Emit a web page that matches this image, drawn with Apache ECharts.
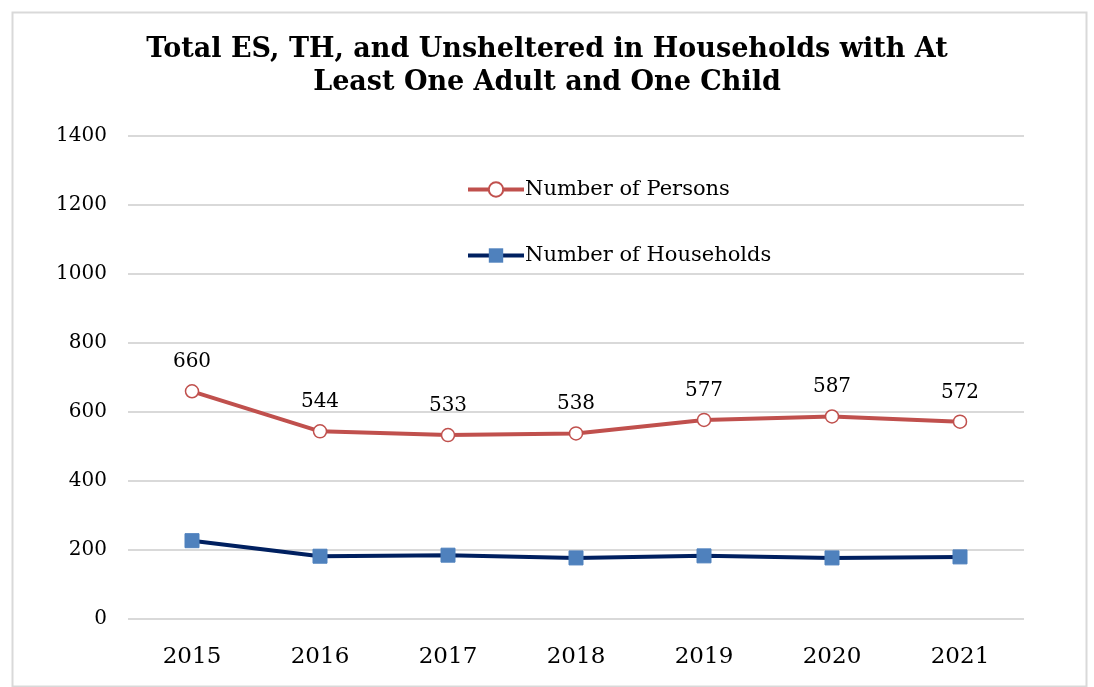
<!DOCTYPE html>
<html>
<head>
<meta charset="utf-8">
<script src="https://cdn.jsdelivr.net/npm/echarts@6/dist/echarts.min.js"></script>
<style>
html,body{margin:0;padding:0;background:#fff;}
#c{width:1094px;height:687px;}
</style>
</head>
<body>
<div id="c"></div>
<script>
const years = ['2015','2016','2017','2018','2019','2020','2021'];
const persons = [660, 544, 533, 538, 577, 587, 572];
const households = [227, 182, 185, 177, 183, 177, 180];
const yTicks = {min: 0, max: 1400, interval: 200};

const serif = '"DejaVu Serif", "Liberation Serif", serif';
const chart = echarts.init(document.getElementById('c'), null, {renderer: 'canvas'});
chart.setOption({
  backgroundColor: '#ffffff',
  animation: false,
  graphic: [{
    type: 'rect', left: 10, top: 10,
    shape: {width: 1074, height: 674},
    style: {fill: 'none', stroke: '#d9d9d9', lineWidth: 2}
  }],
  title: {
    text: 'Total ES, TH, and Unsheltered in Households with At\nLeast One Adult and One Child',
    left: 'center', top: 28,
    textStyle: {fontFamily: serif, fontWeight: 'bold', fontSize: 27, color: '#000', lineHeight: 33}
  },
  legend: {
    orient: 'vertical', left: 461, top: 174, itemGap: 45,
    itemWidth: 56, itemHeight: 18,
    lineStyle: {width: 4},
    textStyle: {fontFamily: serif, fontSize: 21, color: '#000', padding: [0, 0, 0, -4]},
    data: ['Number of Persons', 'Number of Households']
  },
  grid: {left: 128, right: 70, top: 136, bottom: 68},
  xAxis: {
    type: 'category', data: years, boundaryGap: true,
    axisLine: {show: false}, axisTick: {show: false},
    axisLabel: {fontFamily: serif, fontSize: 23, color: '#000', margin: 27}
  },
  yAxis: {
    type: 'value', min: yTicks.min, max: yTicks.max, interval: yTicks.interval,
    axisLine: {show: false}, axisTick: {show: false},
    splitLine: {lineStyle: {color: '#d9d9d9', width: 2}},
    axisLabel: {fontFamily: serif, fontSize: 20, color: '#000', margin: 21,
      formatter: function (v) { return String(v); }}
  },
  series: [
    {
      name: 'Number of Persons', type: 'line', data: persons,
      symbol: 'circle', symbolSize: 13, showAllSymbol: true,
      lineStyle: {color: '#C0504D', width: 4},
      itemStyle: {color: '#ffffff', borderColor: '#C0504D', borderWidth: 1.5},
      label: {show: true, position: 'top', distance: 12, fontFamily: serif, fontSize: 20, color: '#000'},
      z: 3
    },
    {
      name: 'Number of Households', type: 'line', data: households,
      symbol: 'rect', symbolSize: 14, showAllSymbol: true,
      lineStyle: {color: '#002060', width: 4},
      itemStyle: {color: '#4F81BD', borderColor: '#4F81BD'},
      z: 3
    }
  ]
});
</script>
</body>
</html>
